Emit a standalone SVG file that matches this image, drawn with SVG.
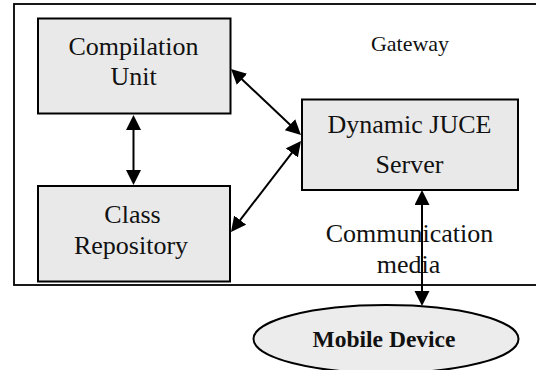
<svg xmlns="http://www.w3.org/2000/svg" width="536" height="370" viewBox="0 0 536 370">
  <style>
    .box { fill: #e9e9e9; stroke: #000; stroke-width: 2; }
    .lbl { font-family: "Liberation Serif", "Times New Roman", serif; font-size: 26px; fill: #111; text-anchor: middle; }
    .edge { stroke: #000; stroke-width: 2; fill: none; marker-start: url(#head); marker-end: url(#head); }
  </style>
  <defs>
    <marker id="head" markerUnits="userSpaceOnUse" markerWidth="16" markerHeight="16" viewBox="0 0 16 16" refX="12" refY="7.5" orient="auto-start-reverse">
      <path d="M0,0 L15,7.5 L0,15 z" fill="#000"/>
    </marker>
  </defs>

  <!-- gateway boundary -->
  <g id="gateway">
    <rect x="14" y="4" width="524" height="281" fill="#fff" stroke="#000" stroke-width="1.8"/>
    <text class="lbl" x="410" y="51" style="font-size:22px">Gateway</text>
  </g>

  <g id="compilation-unit">
    <rect class="box" x="38" y="18.5" width="192.5" height="95"/>
    <text class="lbl" x="133.5" y="55">Compilation</text>
    <text class="lbl" x="133.5" y="85">Unit</text>
  </g>

  <g id="class-repository">
    <rect class="box" x="38" y="186" width="192" height="95.5"/>
    <text class="lbl" x="132.5" y="223">Class</text>
    <text class="lbl" x="131" y="254">Repository</text>
  </g>

  <g id="juce-server">
    <rect class="box" x="302" y="99.5" width="216" height="90.5"/>
    <text class="lbl" x="409.5" y="133">Dynamic JUCE</text>
    <text class="lbl" x="409.5" y="172.5">Server</text>
  </g>

  <g id="mobile-device">
    <ellipse cx="386" cy="339" rx="132.5" ry="34" fill="#ececec" stroke="#000" stroke-width="2"/>
    <text class="lbl" x="384" y="347" style="font-size:23.5px;font-weight:bold">Mobile Device</text>
  </g>

  <g id="connectors">
    <text class="lbl" x="409.5" y="242">Communication</text>
    <text class="lbl" x="408.5" y="273">media</text>
    <line class="edge" x1="133.5" y1="118" x2="133.5" y2="182"/>
    <line class="edge" x1="233.2" y1="71.1" x2="298.8" y2="132.9"/>
    <line class="edge" x1="232.8" y1="229.6" x2="299.2" y2="143.4"/>
    <line class="edge" x1="422" y1="193" x2="422" y2="303"/>
  </g>
</svg>
